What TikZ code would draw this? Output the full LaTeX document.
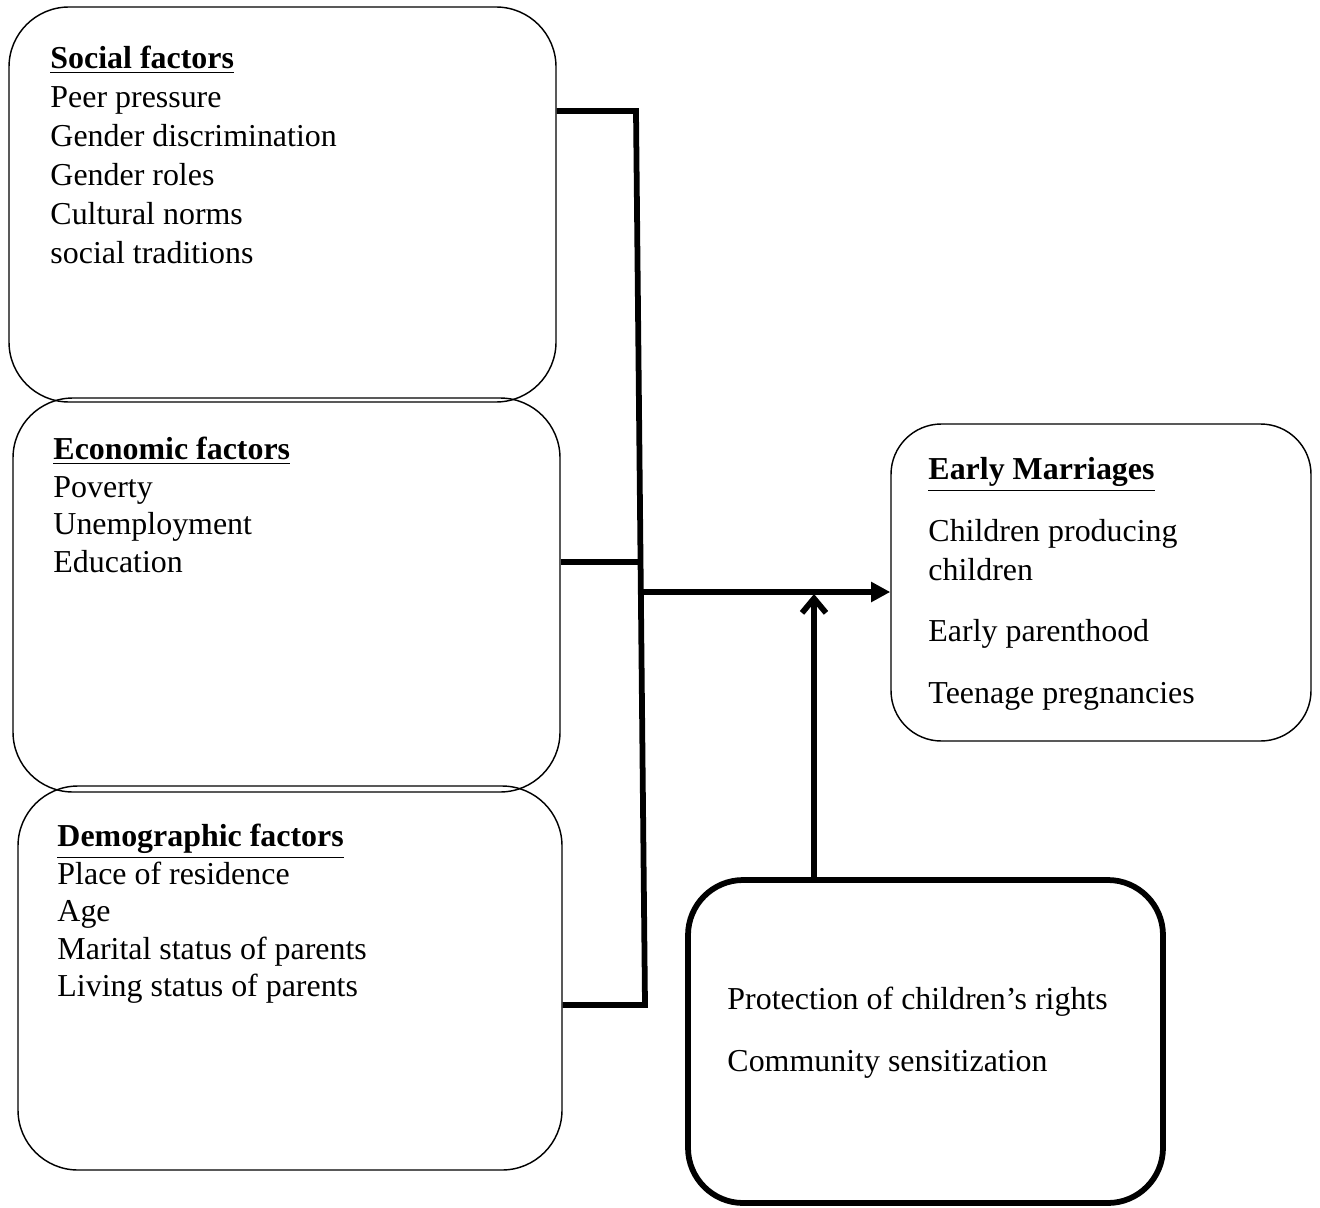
\documentclass[tikz,border=0pt]{standalone}
\usepackage{fontspec}
\setmainfont{Liberation Serif}
\usetikzlibrary{arrows.meta,fit}
\newcommand{\head}[1]{\underline{\textbf{#1}}}

\begin{document}
\begin{tikzpicture}[x=0.4167pt,y=-0.4167pt,>=Latex]
\tikzset{
 box/.style={draw,rounded corners=25pt,line width=0.6pt,inner sep=0pt},
 thickbox/.style={draw,rounded corners=23pt,line width=2.4pt,inner sep=0pt},
 txt/.style={anchor=north west,inner sep=0pt,align=left,font=\fontsize{13.3}{16.25}\selectfont},
 txtb/.style={txt,font=\fontsize{13.3}{15.6}\selectfont},
 link/.style={line width=2.4pt},
 arrow/.style={-{Triangle[length=8pt,width=8pt]},line width=2.4pt},
 uparrow/.style={-{Straight Barb[length=6pt,width=10pt]},line width=2.4pt}
}
\useasboundingbox (0,0) rectangle (1320,1207);
% boxes
\node[box,fit={(9,7) (556,402)}] (soc) {};
\node[box,fit={(13,398) (560,792)}] (eco) {};
\node[box,fit={(18,786) (562,1170)}] (dem) {};
\node[box,rounded corners=21pt,fit={(891,424) (1311,741)}] (em) {};
\node[thickbox,fit={(688,880) (1163,1203)}] (prot) {};
% texts
\node[txt] (soct) at (50,46) {\head{Social factors}\\Peer pressure\\Gender discrimination\\Gender roles\\Cultural norms\\social traditions};
\node[txtb] (ecot) at (53,437) {\head{Economic factors}\\Poverty\\Unemployment\\Education};
\node[txtb] (demt) at (57,824) {\head{Demographic factors}\\Place of residence\\Age\\Marital status of parents\\Living status of parents};
\node[txt] (emt) at (928,457) {\head{Early Marriages}\\[9.4pt]Children producing\\children\\[9.4pt]Early parenthood\\[9.4pt]Teenage pregnancies};
\node[txt] (prott) at (727,987) {Protection of children’s rights\\[9.4pt]Community sensitization};
% connectors
\coordinate (jtop) at (636,111);
\coordinate (jeco) at (640,562);
\coordinate (jmid) at (640,592);
\coordinate (jbot) at (645,1005);
\coordinate (jup) at (814,594);
\draw[link] (soc.east |- jtop) -- (jtop) -- (jbot) -- (dem.east |- jbot);
\draw[link] (eco.east |- jeco) -- (jeco);
\draw[arrow] (jmid) -- (em.west |- jmid);
\draw[uparrow] (prot.north -| jup) -- (jup);
\end{tikzpicture}
\end{document}
